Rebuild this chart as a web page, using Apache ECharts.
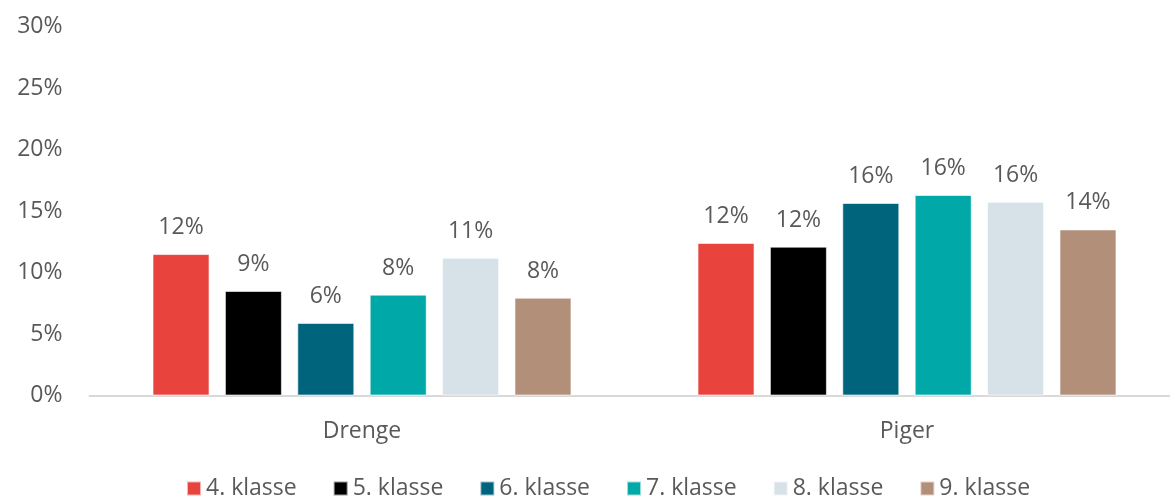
<!DOCTYPE html>
<html>
<head>
<meta charset="utf-8">
<script src="https://cdn.jsdelivr.net/npm/echarts@6/dist/echarts.min.js"></script>
<style>
  html, body { margin: 0; padding: 0; background: #fff; }
  #chart { width: 1170px; height: 500px; }
</style>
</head>
<body>
<div id="chart"></div>
<script>
// kategorier og klassetrin
const categories = ['Drenge', 'Piger']
const grades = ['4. klasse', '5. klasse', '6. klasse', '7. klasse', '8. klasse', '9. klasse']
const colors = ['#E8433C', '#000000', '#00647D', '#00A9A8', '#D6E2E8', '#B28F79']

// andele i procent
const klasse4 = [11.5, 12.4]
const klasse5 = [8.5, 12.1]
const klasse6 = [5.9, 15.65]
const klasse7 = [8.2, 16.3]
const klasse8 = [11.2, 15.75]
const klasse9 = [7.95, 13.5]
const seriesValues = [klasse4, klasse5, klasse6, klasse7, klasse8, klasse9]

const yTicks = [0, 5, 10, 15, 20, 25, 30]

const textColor = '#595959'
const font = '"Open Sans", "Noto Sans", sans-serif'

let chart = echarts.init(document.getElementById('chart'))
chart.setOption({
  animation: false,
  textStyle: { fontFamily: font },
  grid: {
    left: 89.5,
    width: 1090,
    top: 26.5,
    bottom: 104.5,
    containLabel: false,
    outerBoundsMode: 'none'
  },
  legend: {
    bottom: -5,
    left: 181,
    itemWidth: 14,
    itemHeight: 14,
    itemGap: 36,
    icon: 'rect',
    textStyle: { color: textColor, fontSize: 23, fontFamily: font },
    data: grades
  },
  xAxis: {
    type: 'category',
    data: categories,
    axisTick: { show: false },
    axisLine: { lineStyle: { color: '#D9D9D9', width: 2 } },
    axisLabel: { color: textColor, fontSize: 23, margin: 24, fontFamily: font }
  },
  yAxis: {
    type: 'value',
    min: yTicks[0],
    max: yTicks[yTicks.length - 1],
    interval: 5,
    splitLine: { show: false },
    axisLine: { show: false },
    axisTick: { show: false },
    axisLabel: {
      color: textColor,
      fontSize: 23,
      margin: 27,
      fontFamily: font,
      formatter: v => v + '%'
    }
  },
  series: grades.map((name, i) => ({
    name: name,
    type: 'bar',
    data: seriesValues[i],
    barWidth: 57,
    barGap: '27%',
    itemStyle: {
      color: colors[i],
      borderColor: 'rgba(255,255,255,0.6)',
      borderWidth: 1
    },
    label: {
      show: true,
      position: 'top',
      distance: 15,
      color: textColor,
      fontSize: 23,
      fontFamily: font,
      formatter: p => Math.round(p.value) + '%'
    }
  }))
})
</script>
</body>
</html>
